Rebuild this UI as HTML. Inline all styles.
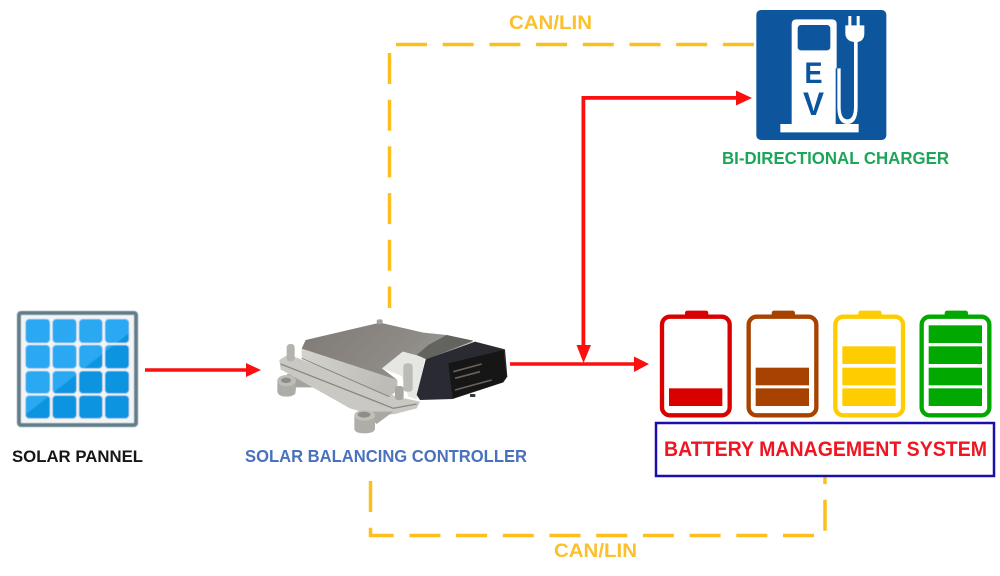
<!DOCTYPE html>
<html><head><meta charset="utf-8"><style>
html,body{margin:0;padding:0;background:#fff;width:1000px;height:576px;overflow:hidden}
svg{display:block}
text{font-family:"Liberation Sans",sans-serif;font-weight:bold}
</style></head><body>
<svg width="1000" height="576" viewBox="0 0 1000 576" xmlns="http://www.w3.org/2000/svg">
<defs>
<filter id="b" x="-5%" y="-5%" width="110%" height="110%"><feGaussianBlur stdDeviation="0.5"/></filter>
<filter id="e" x="-5%" y="-5%" width="110%" height="110%"><feGaussianBlur stdDeviation="0.8"/></filter>
<filter id="t" x="-5%" y="-20%" width="110%" height="140%"><feGaussianBlur stdDeviation="0.3"/></filter>
<linearGradient id="top" x1="0" y1="0" x2="1" y2="0.3"><stop offset="0" stop-color="#7f7a75"/><stop offset=".7" stop-color="#8f8b86"/><stop offset="1" stop-color="#a19e99"/></linearGradient>
<linearGradient id="side" x1="0" y1="0" x2="1" y2="0.3"><stop offset="0" stop-color="#d4d3ce"/><stop offset="1" stop-color="#bdbcb6"/></linearGradient>
<clipPath id="cells"><path d="M129 333L25 415V420H129Z"/></clipPath>
</defs>

<!-- dashed links -->
<g fill="none" stroke="#fdbf1e" stroke-width="3.500" stroke-dasharray="31 15.700">
<path d="M396 44.500H756"/>
<path d="M389.500 53V308"/>
<path d="M370.500 481V535.500H825V477"/>
</g>

<!-- solar panel -->
<g filter="url(#b)">
<rect x="19" y="313" width="117" height="112" rx="2" fill="#f2f4f5" stroke="#607d8b" stroke-width="4"/>
<g fill="#2aa9f2">
<rect x="25.500" y="319" width="24.500" height="24" rx="4"/><rect x="52.500" y="319" width="24" height="24" rx="4"/><rect x="79" y="319" width="23.500" height="24" rx="4"/><rect x="105" y="319" width="24" height="24" rx="4"/>
<rect x="25.500" y="345" width="24.500" height="23.500" rx="4"/><rect x="52.500" y="345" width="24" height="23.500" rx="4"/><rect x="79" y="345" width="23.500" height="23.500" rx="4"/><rect x="105" y="345" width="24" height="23.500" rx="4"/>
<rect x="25.500" y="371" width="24.500" height="22.500" rx="4"/><rect x="52.500" y="371" width="24" height="22.500" rx="4"/><rect x="79" y="371" width="23.500" height="22.500" rx="4"/><rect x="105" y="371" width="24" height="22.500" rx="4"/>
<rect x="25.500" y="395.500" width="24.500" height="23" rx="4"/><rect x="52.500" y="395.500" width="24" height="23" rx="4"/><rect x="79" y="395.500" width="23.500" height="23" rx="4"/><rect x="105" y="395.500" width="24" height="23" rx="4"/>
</g>
<g fill="#0a94e0" clip-path="url(#cells)">
<rect x="25.500" y="319" width="24.500" height="24" rx="4"/><rect x="52.500" y="319" width="24" height="24" rx="4"/><rect x="79" y="319" width="23.500" height="24" rx="4"/><rect x="105" y="319" width="24" height="24" rx="4"/>
<rect x="25.500" y="345" width="24.500" height="23.500" rx="4"/><rect x="52.500" y="345" width="24" height="23.500" rx="4"/><rect x="79" y="345" width="23.500" height="23.500" rx="4"/><rect x="105" y="345" width="24" height="23.500" rx="4"/>
<rect x="25.500" y="371" width="24.500" height="22.500" rx="4"/><rect x="52.500" y="371" width="24" height="22.500" rx="4"/><rect x="79" y="371" width="23.500" height="22.500" rx="4"/><rect x="105" y="371" width="24" height="22.500" rx="4"/>
<rect x="25.500" y="395.500" width="24.500" height="23" rx="4"/><rect x="52.500" y="395.500" width="24" height="23" rx="4"/><rect x="79" y="395.500" width="23.500" height="23" rx="4"/><rect x="105" y="395.500" width="24" height="23" rx="4"/>
</g>
</g>

<!-- ECU (drawn in 3x zoom coordinates) -->
<g transform="translate(260 300) scale(.33333)" filter="url(#e)">
<!-- left foot -->
<path d="M80 222L125 225L195 272L160 262L108 262L105 285L80 222Z" fill="#a4a39d"/>
<path d="M52 242V272Q52 290 80 290Q107 290 107 272V242Z" fill="#adaca6"/>
<ellipse cx="80" cy="242" rx="28" ry="17" fill="#bdbcb6"/>
<ellipse cx="78" cy="241" rx="15" ry="8" fill="#8d8c86"/>
<!-- under pieces -->
<path d="M150 245L190 245L192 272L165 260Z" fill="#8d8f8c"/>
<path d="M225 270L268 290L262 303L235 290Z" fill="#8d8f8c"/>
<!-- flange -->
<path d="M58 180L85 163L410 290L480 305L470 325L405 342L350 348L270 325L62 208Z" fill="#c9c8c3"/>
<path d="M62 192L400 325L470 312" fill="none" stroke="#8a8985" stroke-width="4"/>
<!-- bottom foot -->
<path d="M300 335L400 335L350 372L320 345Z" fill="#a9a8a2"/>
<path d="M283 348V385Q283 400 313 400Q345 400 345 385V348Z" fill="#aeada7"/>
<ellipse cx="314" cy="346" rx="31" ry="16" fill="#c0bfb9"/>
<ellipse cx="312" cy="344" rx="19" ry="9" fill="#8e8d87"/>
<!-- lid side -->
<path d="M125 146L412 240L412 272L388 290L125 175Z" fill="url(#side)"/>
<path d="M125 175L388 290" stroke="#87867f" stroke-width="3" fill="none"/>
<!-- lid top -->
<path d="M125 146L137 120L360 68L490 98L560 105L640 125L500 178L430 155L366 205L412 240Z" fill="url(#top)"/>
<!-- reflection -->
<path d="M366 205L428 155L495 172L470 298L445 290L425 228Z" fill="#e6e6e3"/>
<path d="M560 105L640 122L500 178L470 165L505 135Z" fill="#64635f"/>
<!-- posts -->
<rect x="80" y="132" width="24" height="52" rx="10" fill="#b4b3ae"/>
<rect x="430" y="190" width="28" height="85" rx="10" fill="#bcbbb6"/>
<rect x="405" y="258" width="26" height="42" rx="9" fill="#a8a7a2"/>
<rect x="350" y="58" width="18" height="14" rx="6" fill="#a3a29d"/>
<!-- connector -->
<path d="M497 178L645 125L735 148L742 230L730 247L578 297L480 300L470 285Z" fill="#2c2c30"/>
<path d="M565 190L730 150L740 230L728 247L578 295Z" fill="#161618"/>
<path d="M580 215L665 192M585 235L660 215M585 270L695 240" stroke="#6a625a" stroke-width="5" fill="none"/>
<rect x="630" y="282" width="16" height="9" fill="#3a3a3a"/>
</g>

<!-- red arrows -->
<g fill="#fb0f0f" stroke="none">
<path d="M145 368.200H248V371.800H145Z"/><path d="M246 363L261 370L246 377Z"/>
<path d="M510 362.200H637V365.800H510Z"/><path d="M634 356.500L649 364L634 372Z"/>
<path d="M581.500 96H738V99.800H585.300V346H581.500Z"/><path d="M736 90.500L752 98L736 105.500Z"/><path d="M576.500 345H591L583.500 363Z"/>
</g>

<!-- EV charger (3x zoom coordinates) -->
<g transform="translate(740 0) scale(.33333)" filter="url(#b)">
<rect x="49" y="30" width="390" height="390" rx="14" fill="#0a559c"/>
<path d="M155 72Q155 58 170 58H275Q290 58 290 72V372H356V397H121V372H155Z" fill="#fff"/>
<rect x="173" y="75" width="98" height="76" rx="10" fill="#0a559c"/>
<path d="M287 205H292V372H287Z" fill="#0a559c"/>
<path d="M316 76H373V100Q373 122 353 126V320Q353 372 322 372Q292 372 292 320V205H302V320Q302 358 322 358Q342 358 342 320V126Q316 122 316 100Z" fill="#fff"/>
<rect x="325" y="48" width="9" height="30" fill="#fff"/><rect x="350" y="48" width="9" height="30" fill="#fff"/>
</g>
<text x="804.500" y="83" font-size="30" fill="#0a559c" textLength="18" lengthAdjust="spacingAndGlyphs">E</text>
<text x="803" y="115" font-size="32" fill="#0a559c" textLength="21" lengthAdjust="spacingAndGlyphs">V</text>

<!-- batteries (3x zoom coordinates) -->
<g transform="translate(640 300) scale(.33333)" filter="url(#b)">
<g fill="none" stroke-width="13">
<rect x="66" y="50" width="203" height="296" rx="24" stroke="#d90000"/>
<rect x="326" y="50" width="203" height="296" rx="24" stroke="#a84300"/>
<rect x="586" y="50" width="203" height="296" rx="24" stroke="#ffcc00"/>
<rect x="845" y="50" width="203" height="296" rx="24" stroke="#00a800"/>
</g>
<path d="M135 45V40Q135 32 143 32H197Q205 32 205 40V45Z" fill="#d90000"/>
<path d="M395 45V40Q395 32 403 32H457Q465 32 465 40V45Z" fill="#a84300"/>
<path d="M655 45V40Q655 32 663 32H717Q725 32 725 40V45Z" fill="#ffcc00"/>
<path d="M914 45V40Q914 32 922 32H976Q984 32 984 40V45Z" fill="#00a800"/>
<rect x="87" y="265" width="160" height="53" fill="#d90000"/>
<rect x="347" y="203" width="160" height="53" fill="#a84300"/><rect x="347" y="265" width="160" height="53" fill="#a84300"/>
<rect x="607" y="139" width="160" height="53" fill="#ffcc00"/><rect x="607" y="203" width="160" height="53" fill="#ffcc00"/><rect x="607" y="265" width="160" height="53" fill="#ffcc00"/>
<rect x="866" y="76" width="160" height="53" fill="#00a800"/><rect x="866" y="139" width="160" height="53" fill="#00a800"/><rect x="866" y="203" width="160" height="53" fill="#00a800"/><rect x="866" y="265" width="160" height="53" fill="#00a800"/>
</g>
<rect x="656" y="423" width="338" height="53" fill="#fff" stroke="#1a0fa8" stroke-width="2.500"/>

<!-- labels -->
<g filter="url(#t)">
<text x="509" y="29" font-size="19.500" fill="#fbc02d" textLength="83" lengthAdjust="spacingAndGlyphs">CAN/LIN</text>
<text x="554" y="557" font-size="19.500" fill="#fbc02d" textLength="83" lengthAdjust="spacingAndGlyphs">CAN/LIN</text>
<text x="722" y="164" font-size="17.500" fill="#1fa65a" textLength="227" lengthAdjust="spacingAndGlyphs">BI-DIRECTIONAL CHARGER</text>
<text x="12" y="462" font-size="17" fill="#141414" textLength="131" lengthAdjust="spacingAndGlyphs">SOLAR PANNEL</text>
<text x="245" y="462" font-size="17.500" fill="#4a72bd" textLength="282" lengthAdjust="spacingAndGlyphs">SOLAR BALANCING CONTROLLER</text>
<text x="664" y="456" font-size="21" fill="#ee1520" textLength="323" lengthAdjust="spacingAndGlyphs">BATTERY MANAGEMENT SYSTEM</text>
</g>
</svg>
</body></html>
